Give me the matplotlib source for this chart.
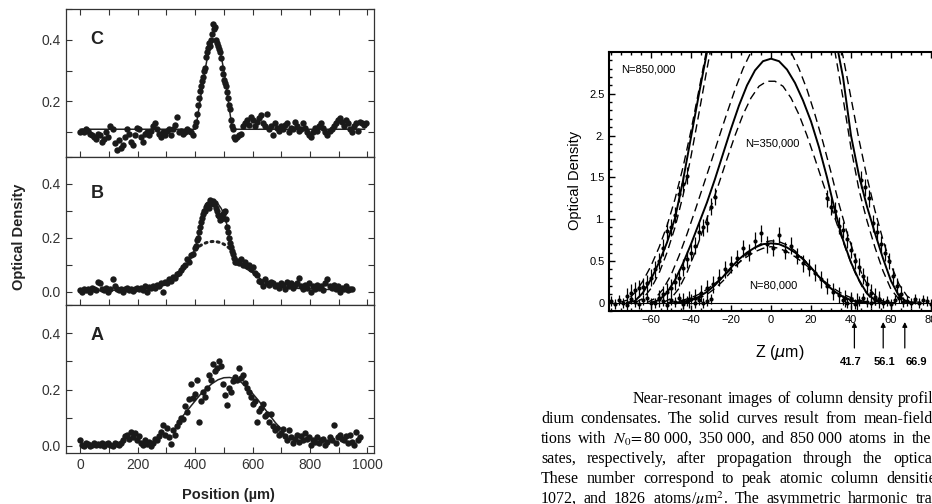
# Perfis de densidade óptica: três painéis à esquerda, perfis de condensados à direita
import numpy as np
import matplotlib.pyplot as plt
from matplotlib.ticker import MultipleLocator, FixedLocator, FixedFormatter
from matplotlib.transforms import blended_transform_factory

plt.rcParams['font.family'] = ['Liberation Sans', 'DejaVu Sans']

W, H = 932, 504

# ---------------- dados do painel C ----------------
c_x = np.arange(0, 995, 7)
c_y = [0.10, 0.105, 0.10, 0.11, 0.105, 0.095, 0.09, 0.085, 0.08, 0.095,
       0.09, 0.07, 0.08, 0.10, 0.085, 0.12, 0.11, 0.065, 0.043, 0.075,
       0.05, 0.06, 0.085, 0.11, 0.095, 0.07, 0.06, 0.09, 0.115, 0.11,
       0.085, 0.07, 0.095, 0.10, 0.09, 0.105, 0.12, 0.13, 0.11, 0.095,
       0.085, 0.10, 0.09, 0.105, 0.11, 0.09, 0.11, 0.125, 0.15, 0.10,
       0.105, 0.095, 0.10, 0.11, 0.105, 0.10, 0.09, 0.12, 0.16, 0.21,
       0.25, 0.28, 0.31, 0.36, 0.39, 0.40, 0.45, 0.44, 0.39, 0.37,
       0.34, 0.29, 0.26, 0.23, 0.19, 0.14, 0.11, 0.08, 0.085, 0.09,
       0.095, 0.12, 0.13, 0.14, 0.125, 0.15, 0.14, 0.12, 0.135, 0.145,
       0.155, 0.13, 0.12, 0.16, 0.11, 0.12, 0.09, 0.13, 0.115, 0.105,
       0.12, 0.11, 0.125, 0.13, 0.10, 0.115, 0.11, 0.135, 0.12, 0.105,
       0.11, 0.13, 0.115, 0.10, 0.09, 0.085, 0.10, 0.115, 0.105, 0.12,
       0.13, 0.115, 0.10, 0.09, 0.105, 0.11, 0.12, 0.13, 0.14, 0.145,
       0.135, 0.12, 0.14, 0.13, 0.11, 0.10, 0.12, 0.13, 0.105, 0.135,
       0.13, 0.125, 0.13]
c_pico_x = [403, 410, 417, 424, 431, 438, 445, 452, 459, 466,
            473, 480, 487, 494, 501, 508, 515, 522, 529, 536]
c_pico_y = [0.135, 0.19, 0.235, 0.265, 0.30, 0.345, 0.375, 0.38, 0.42, 0.435,
            0.40, 0.38, 0.36, 0.31, 0.27, 0.25, 0.21, 0.175, 0.12, 0.085]
c_linha_x = [0, 400, 405, 410, 420, 430, 440, 450, 460, 465, 470, 480,
             490, 500, 510, 520, 528, 532, 990]
c_linha_y = [0.11, 0.11, 0.13, 0.16, 0.22, 0.28, 0.33, 0.37, 0.395, 0.40,
             0.398, 0.385, 0.35, 0.30, 0.24, 0.17, 0.12, 0.11, 0.11]

# ---------------- dados do painel B ----------------
b_x = np.arange(0, 946, 7)
b_y = [0.005, 0.0, 0.008, 0.005, 0.01, 0.0, 0.012, 0.008, 0.005, 0.035,
       0.03, 0.01, 0.005, 0.012, 0.0, 0.008, 0.045, 0.02, 0.01, 0.005,
       0.01, 0.0, 0.008, 0.012, 0.005, 0.01, 0.003, 0.008, 0.012, 0.01,
       0.015, 0.005, 0.02, 0.0, 0.018, 0.012, 0.02, 0.015, 0.025, 0.02,
       0.03, 0.0, 0.035, 0.03, 0.045, 0.04, 0.055, 0.05, 0.065, 0.07,
       0.08, 0.09, 0.10, 0.12, 0.11, 0.135, 0.14, 0.16, 0.19, 0.22,
       0.26, 0.29, 0.30, 0.32, 0.31, 0.33, 0.335, 0.33, 0.30, 0.28,
       0.27, 0.29, 0.30, 0.24, 0.20, 0.165, 0.14, 0.11, 0.115, 0.105,
       0.12, 0.10, 0.11, 0.095, 0.10, 0.085, 0.09, 0.07, 0.06, 0.04,
       0.035, 0.02, 0.045, 0.03, 0.025, 0.035, 0.03, 0.02, 0.025, 0.015,
       0.03, 0.025, 0.01, 0.035, 0.02, 0.03, 0.015, 0.025, 0.03, 0.05,
       0.02, 0.01, 0.025, 0.015, 0.03, 0.0, 0.02, 0.01, 0.025, 0.015,
       0.02, 0.005, 0.03, 0.045, 0.02, 0.015, 0.025, 0.01, 0.02, 0.0,
       0.015, 0.01, 0.02, 0.005, 0.01, 0.01]
b_pico_x = [403, 410, 417, 424, 431, 438, 445, 452, 459, 466, 473,
            480, 487, 494, 501, 508, 515, 522, 529, 536, 543]
b_pico_y = [0.17, 0.20, 0.24, 0.275, 0.30, 0.315, 0.325, 0.34, 0.33, 0.325, 0.31,
            0.285, 0.265, 0.28, 0.295, 0.27, 0.22, 0.18, 0.15, 0.125, 0.11]
b_linha_x = [0, 100, 200, 250, 300, 330, 360, 380, 400, 410, 420, 430, 440,
             450, 460, 470, 480, 490, 500, 510, 520, 530, 540, 550, 570, 600,
             630, 660, 700, 750, 800, 850, 900, 940]
b_linha_y = [0.003, 0.004, 0.008, 0.012, 0.025, 0.045, 0.08, 0.11, 0.16, 0.20,
             0.245, 0.28, 0.305, 0.32, 0.33, 0.33, 0.325, 0.31, 0.29, 0.25, 0.20,
             0.15, 0.12, 0.105, 0.09, 0.07, 0.045, 0.03, 0.018, 0.012, 0.01,
             0.008, 0.007, 0.006]
b_termico_x = [400, 410, 420, 430, 440, 450, 460, 470, 480, 490, 500, 510, 520, 530]
b_termico_y = [0.155, 0.165, 0.172, 0.178, 0.182, 0.185, 0.186, 0.186, 0.184,
               0.181, 0.176, 0.169, 0.16, 0.15]

# ---------------- dados do painel A ----------------
a_x = np.arange(0, 974, 7)
a_y = [0.02, 0.005, 0.0, 0.01, 0.008, 0.0, 0.005, 0.01, 0.003, 0.008,
       0.005, 0.012, 0.0, 0.008, 0.01, 0.005, 0.0, 0.01, 0.008, 0.004,
       0.012, 0.02, 0.035, 0.04, 0.025, 0.05, 0.03, 0.045, 0.02, 0.035,
       0.01, 0.005, 0.02, 0.008, 0.015, 0.0, 0.01, 0.025, 0.02, 0.035,
       0.05, 0.075, 0.04, 0.065, 0.03, 0.008, 0.055, 0.04, 0.07, 0.085,
       0.10, 0.095, 0.14, 0.12, 0.165, 0.22, 0.17, 0.185, 0.235, 0.085,
       0.16, 0.19, 0.175, 0.205, 0.25, 0.235, 0.29, 0.265, 0.275, 0.30,
       0.285, 0.22, 0.18, 0.145, 0.205, 0.19, 0.23, 0.245, 0.235, 0.275,
       0.24, 0.25, 0.225, 0.205, 0.19, 0.175, 0.15, 0.16, 0.085, 0.125,
       0.135, 0.15, 0.105, 0.115, 0.085, 0.115, 0.07, 0.055, 0.065, 0.04,
       0.045, 0.06, 0.035, 0.02, 0.055, 0.03, 0.01, 0.025, 0.04, 0.015,
       0.035, 0.02, 0.045, 0.025, 0.03, 0.005, 0.02, 0.015, 0.03, 0.01,
       0.02, 0.025, 0.005, 0.015, 0.03, 0.02, 0.075, 0.01, 0.03, 0.04,
       0.025, 0.02, 0.035, 0.01, 0.04, 0.015, 0.005, 0.05, 0.02, 0.03]
a_linha_x = [340, 360, 380, 400, 420, 440, 460, 480, 500, 520, 540, 560,
             580, 600, 620, 640, 660, 680, 700]
a_linha_y = [0.085, 0.11, 0.135, 0.16, 0.185, 0.205, 0.222, 0.235, 0.242,
             0.243, 0.238, 0.226, 0.208, 0.186, 0.162, 0.135, 0.108, 0.082, 0.06]

# ---------------- dados do gráfico da direita ----------------
n80_z = [-44, -41, -38, -35, -32, -29, -26, -23, -20, -17, -14, -11, -8, -5, -2,
         1, 4, 7, 10, 13, 16, 19, 22, 25, 28, 31, 34, 37, 40, 43]
n80_y = [0.02, 0.04, 0.06, 0.11, 0.17, 0.22, 0.30, 0.40, 0.46, 0.53, 0.65, 0.60,
         0.74, 0.83, 0.70, 0.66, 0.81, 0.62, 0.68, 0.56, 0.47, 0.42, 0.36, 0.28,
         0.20, 0.13, 0.09, 0.05, 0.03, 0.01]
n350_z = [-56, -54, -52, -50, -48, -46, -44, -42, -40, -38, -36, -34, -32, -30, -28,
          28, 30, 32, 34, 36, 38, 40, 42, 44, 46, 48, 50, 52, 54]
n350_y = [0.05, 0.10, 0.13, 0.18, 0.25, 0.30, 0.42, 0.52, 0.60, 0.68, 0.85, 0.90,
          0.95, 1.15, 1.27, 1.25, 1.15, 1.10, 0.92, 0.87, 0.76, 0.63, 0.50, 0.43,
          0.32, 0.22, 0.12, 0.07, 0.04]
n850_z = [-72, -70, -68, -66, -64, -62, -60, -58, -56, -54, -52, -50, -48, -46, -44,
          -42, 45, 47, 49, 51, 53, 55, 57, 59, 61, 63, 65]
n850_y = [0.08, 0.12, 0.15, 0.17, 0.19, 0.23, 0.30, 0.40, 0.50, 0.66, 0.86, 0.90,
          1.05, 1.30, 1.42, 1.52, 1.47, 1.38, 1.25, 0.95, 0.85, 0.70, 0.60, 0.50,
          0.32, 0.20, 0.10]
fundo_z = [-80, -78, -76, -74, -72, -70, -68, -66, -64, -62, -60, -58, -56, -54,
           -52, -50, -48, -46, -44, -42, -40, -38, -36, -34, -32, -30,
           36, 38, 40, 42, 44, 46, 48, 50, 52, 54, 56, 58, 60, 62, 64, 66, 68,
           70, 72, 74, 76, 78, 80, 82]
fundo_y = [0.02, -0.02, 0.03, 0.0, -0.03, 0.04, 0.01, -0.02, 0.03, 0.05, 0.0,
           -0.01, 0.04, 0.02, -0.03, 0.03, 0.01, 0.05, -0.02, 0.02, 0.04, 0.0,
           0.03, -0.01, 0.02, 0.04,
           0.03, 0.0, 0.04, -0.02, 0.02, 0.05, 0.01, -0.01, 0.03, 0.04, 0.0,
           0.02, -0.02, 0.03, 0.05, 0.01, 0.02, -0.01, 0.04, 0.0, 0.03, 0.02,
           -0.02, 0.04]

s80_z = [-48, -44, -40, -36, -32, -28, -24, -20, -16, -12, -8, -4, 0, 4, 8, 12,
         16, 20, 24, 28, 32, 36, 40, 44, 48]
s80_y = [0.0, 0.01, 0.03, 0.07, 0.13, 0.21, 0.31, 0.42, 0.52, 0.60, 0.66, 0.70,
         0.71, 0.70, 0.66, 0.60, 0.52, 0.42, 0.31, 0.21, 0.13, 0.07, 0.03, 0.01, 0.0]
t80a_z = [-44, -40, -36, -32, -28, -24, -20, -16, -12, -8, -4, 0, 4, 8, 12, 16,
          20, 24, 28, 32, 36, 40, 44]
t80a_y = [0.0, 0.02, 0.05, 0.10, 0.17, 0.26, 0.37, 0.48, 0.58, 0.66, 0.72, 0.74,
          0.73, 0.69, 0.62, 0.53, 0.42, 0.31, 0.21, 0.13, 0.07, 0.03, 0.01]
t80b_z = [-52, -48, -44, -40, -36, -32, -28, -24, -20, -16, -12, -8, -4, 0, 4, 8,
          12, 16, 20, 24, 28, 32, 36, 40, 44, 48, 52]
t80b_y = [0.0, 0.01, 0.03, 0.06, 0.10, 0.16, 0.23, 0.31, 0.40, 0.48, 0.55, 0.61,
          0.65, 0.67, 0.65, 0.61, 0.55, 0.48, 0.40, 0.31, 0.23, 0.16, 0.10, 0.06,
          0.03, 0.01, 0.0]

s350_z = [-60, -56, -52, -48, -44, -40, -36, -32, -28, -24, -20, -16, -12, -8, -4,
          0, 4, 8, 12, 16, 20, 24, 28, 32, 36, 40, 44, 48, 52, 56, 60]
s350_y = [0.0, 0.03, 0.12, 0.27, 0.47, 0.70, 0.95, 1.20, 1.48, 1.78, 2.08, 2.36,
          2.60, 2.78, 2.89, 2.92, 2.89, 2.79, 2.63, 2.42, 2.17, 1.86, 1.50, 1.10,
          0.75, 0.48, 0.27, 0.11, 0.03, 0.0, 0.0]
t350a_z = [-62, -58, -54, -50, -46, -42, -38, -34, -30, -26, -22, -18, -14, -10,
           -6, -2, 2, 6, 10, 14, 18, 22, 26, 30, 34, 38, 42, 46, 50, 54, 58, 62]
t350a_y = [0.0, 0.05, 0.16, 0.33, 0.56, 0.82, 1.10, 1.39, 1.68, 1.98, 2.27, 2.55,
           2.80, 3.00, 3.13, 3.20, 3.20, 3.13, 3.00, 2.80, 2.55, 2.25, 1.92, 1.56,
           1.18, 0.84, 0.55, 0.31, 0.14, 0.04, 0.0, 0.0]
t350b_z = [-54, -50, -46, -42, -38, -34, -30, -26, -22, -18, -14, -10, -6, -2, 2,
           6, 10, 14, 18, 22, 26, 30, 34, 38, 42, 46, 50, 54]
t350b_y = [0.0, 0.05, 0.17, 0.36, 0.60, 0.87, 1.15, 1.43, 1.72, 2.00, 2.25, 2.45,
           2.59, 2.65, 2.65, 2.59, 2.45, 2.25, 2.00, 1.72, 1.43, 1.15, 0.87, 0.60,
           0.36, 0.17, 0.05, 0.0]

s850_z = [-72, -68, -64, -60, -56, -52, -48, -44, -40, -36, -32, -28, -20, 0, 20,
          28, 32, 36, 40, 44, 48, 52, 56, 60, 64, 68, 72]
s850_y = [0.0, 0.02, 0.12, 0.28, 0.48, 0.72, 1.01, 1.46, 1.98, 2.50, 3.00, 3.45,
          4.20, 5.00, 4.30, 3.60, 3.20, 2.70, 2.00, 1.52, 1.15, 0.83, 0.53, 0.26,
          0.08, 0.01, 0.0]
t850a_z = [-76, -72, -68, -64, -60, -56, -52, -48, -44, -40, -36, -32, -28, -20, 0,
           20, 28, 32, 36, 40, 44, 48, 52, 56, 60, 64, 68, 72, 76]
t850a_y = [0.0, 0.03, 0.12, 0.26, 0.44, 0.66, 0.92, 1.24, 1.62, 2.06, 2.55, 3.05,
           3.50, 4.30, 5.20, 4.40, 3.70, 3.35, 2.95, 2.45, 1.95, 1.50, 1.10, 0.75,
           0.45, 0.22, 0.08, 0.01, 0.0]
t850b_z = [-68, -64, -60, -56, -52, -48, -44, -40, -36, -32, -28, -20, 0, 20, 28,
           32, 36, 40, 44, 48, 52, 56, 60, 64, 68]
t850b_y = [0.0, 0.05, 0.17, 0.35, 0.60, 0.90, 1.28, 1.75, 2.27, 2.80, 3.30, 4.10,
           4.80, 4.10, 3.45, 3.00, 2.45, 1.85, 1.35, 0.98, 0.66, 0.38, 0.16, 0.04, 0.0]

setas_z = [41.7, 56.1, 66.9]
setas_txt = ['41.7', '56.1', '66.9']
setas_txt_px = [851, 884, 916]

# texto da legenda: (x inicial, y, linha, espaço entre palavras em px)
legenda = [
    (633, 399, 'Near-resonant images of column density profiles of so-', 4.5),
    (541, 419, 'dium condensates. The solid curves result from mean-field calcula-', 6.3),
    (541, 439, 'tions with $N_0\\!=$80\u00a0000, 350\u00a0000, and 850\u00a0000 atoms in the conden-', 6.2),
    (541, 459, 'sates, respectively, after propagation through the optical system.', 10.5),
    (541, 479, 'These number correspond to peak atomic column densities of 232,', 7.6),
    (541, 499, '1072, and 1826 atoms/$\\mu$m$^2$. The asymmetric harmonic trap', 7.0),
]


def caixa(x0, y0, x1, y1):
    return [x0 / W, 1 - y1 / H, (x1 - x0) / W, (y1 - y0) / H]


def fy(y):
    return 1 - y / H


fig = plt.figure(figsize=(W / 100, H / 100), dpi=100)

cor_eixo = '#333333'
cor_ponto = '#1a1a1a'

ax_c = fig.add_axes(caixa(66, 9, 374, 157))
ax_b = fig.add_axes(caixa(66, 157, 374, 305))
ax_a = fig.add_axes(caixa(66, 305, 374, 453))

paineis = [
    (ax_c, (0.02, 0.5), 'C', 39),
    (ax_b, (-0.05, 0.5), 'B', 193),
    (ax_a, (-0.025, 0.5), 'A', 335),
]

for ax, lim, letra, yl in paineis:
    ax.set_xlim(-50, 1023)
    ax.set_ylim(*lim)
    ax.xaxis.set_major_locator(MultipleLocator(200))
    ax.xaxis.set_minor_locator(MultipleLocator(100))
    ax.yaxis.set_major_locator(MultipleLocator(0.2))
    ax.yaxis.set_minor_locator(MultipleLocator(0.1))
    ax.tick_params(which='both', direction='in', right=True, top=(ax is ax_c),
                   color=cor_eixo, labelcolor=cor_eixo, labelsize=10, width=0.8)
    ax.tick_params(which='both', length=4)
    ax.yaxis.set_major_formatter(plt.FuncFormatter(lambda v, p: '%.1f' % v))
    for s in ax.spines.values():
        s.set_color(cor_eixo)
        s.set_linewidth(0.9)
    if ax is not ax_a:
        ax.tick_params(labelbottom=False)
    fig.text(97 / W, fy(yl), letra, fontsize=13, fontweight='bold',
             ha='center', va='center', color='#222222')

ax_c.plot(c_linha_x, c_linha_y, color='#222222', lw=1.1, zorder=2)
ax_c.plot(c_x, c_y, 'o', color=cor_ponto, ms=4.6, mew=0, zorder=3)
ax_c.plot(c_pico_x, c_pico_y, 'o', color=cor_ponto, ms=4.6, mew=0, zorder=3)

ax_b.plot(b_linha_x, b_linha_y, color='#222222', lw=1.1, zorder=2)
ax_b.plot(b_termico_x, b_termico_y, color='#222222', lw=2.2,
          dashes=(0.6, 1.4), dash_capstyle='round', zorder=2)
ax_b.plot(b_x, b_y, 'o', color=cor_ponto, ms=4.6, mew=0, zorder=3)
ax_b.plot(b_pico_x, b_pico_y, 'o', color=cor_ponto, ms=4.6, mew=0, zorder=3)

ax_a.plot(a_linha_x, a_linha_y, color='#222222', lw=1.1, zorder=2)
ax_a.plot(a_x, a_y, 'o', color=cor_ponto, ms=4.6, mew=0, zorder=3)

fig.text(19 / W, fy(237), 'Optical Density', rotation=90, fontsize=10.5,
         fontweight='bold', ha='center', va='center', color='#222222')
fig.text(228 / W, fy(495), 'Position (µm)', fontsize=10.5, fontweight='bold',
         ha='center', va='center', color='#222222')

# ---------------- gráfico da direita ----------------
ax_d = fig.add_axes(caixa(609, 52, 955, 311))
ax_d.set_xlim(-81, 92)
ax_d.set_ylim(-0.1, 3.0)
ax_d.axhline(0, color='k', lw=0.8, zorder=1)

for z, y in [(t80a_z, t80a_y), (t80b_z, t80b_y), (t350a_z, t350a_y),
             (t350b_z, t350b_y), (t850a_z, t850a_y), (t850b_z, t850b_y)]:
    ax_d.plot(z, y, color='k', lw=1.0, dashes=(6, 3.5), zorder=2)
for z, y in [(s80_z, s80_y), (s350_z, s350_y), (s850_z, s850_y)]:
    ax_d.plot(z, y, color='k', lw=1.4, zorder=2)

for z, y, e in [(n80_z, n80_y, 0.1), (n350_z, n350_y, 0.1),
                (n850_z, n850_y, 0.1), (fundo_z, fundo_y, 0.06)]:
    ax_d.errorbar(z, y, yerr=e, fmt='o', ms=3, color='k', mew=0,
                  elinewidth=0.9, capsize=0, zorder=3)

ax_d.xaxis.set_major_locator(FixedLocator([-60, -40, -20, 0, 20, 40, 60, 80]))
ax_d.xaxis.set_major_formatter(FixedFormatter(['\u221260', '\u221240', '\u221220',
                                               '0', '20', '40', '60', '80']))
ax_d.xaxis.set_minor_locator(MultipleLocator(5))
ax_d.yaxis.set_major_locator(FixedLocator([0, 0.5, 1, 1.5, 2, 2.5]))
ax_d.yaxis.set_major_formatter(FixedFormatter(['0', '0.5', '1.', '1.5', '2.', '2.5']))
ax_d.yaxis.set_minor_locator(MultipleLocator(0.1))
ax_d.tick_params(which='both', direction='in', top=True, right=True,
                 labelsize=8, width=1.0, pad=3)
ax_d.tick_params(which='major', length=4)
ax_d.tick_params(which='minor', length=2)
for s in ax_d.spines.values():
    s.set_linewidth(1.5)

fig.text(621 / W, fy(69), 'N=850,000', fontsize=8, ha='left', va='center')
fig.text(772 / W, fy(143), 'N=350,000', fontsize=8, ha='center', va='center')
fig.text(773 / W, fy(286), 'N=80,000', fontsize=8, ha='center', va='center')
fig.text(575 / W, fy(180), 'Optical Density', rotation=90, fontsize=10.5,
         ha='center', va='center')
fig.text(780 / W, fy(352), 'Z ($\\mu$m)', fontsize=11.5, ha='center', va='center',
         math_fontfamily='dejavusans')

mistura = blended_transform_factory(ax_d.transData, fig.transFigure)
for z, t, xt in zip(setas_z, setas_txt, setas_txt_px):
    ax_d.annotate('', xy=(z, fy(322)), xytext=(z, fy(348)),
                  xycoords=mistura, textcoords=mistura, annotation_clip=False,
                  arrowprops=dict(arrowstyle='-|>', color='k', lw=0.9,
                                  mutation_scale=7, shrinkA=0, shrinkB=0))
    fig.text(xt / W, fy(362), t, fontsize=8, fontweight='bold',
             ha='center', va='center')

# ---------------- legenda em texto (justificada palavra a palavra) ----------------
fig.canvas.draw()
rend = fig.canvas.get_renderer()
for x0, y, linha, folga in legenda:
    x = x0
    for palavra in linha.split(' '):
        t = fig.text(x / W, fy(y), palavra, fontsize=11.5,
                     family=['Liberation Serif', 'DejaVu Serif'],
                     ha='left', va='center', math_fontfamily='stix')
        x += t.get_window_extent(rend).width + folga
        if x > W + 20:
            break

fig.savefig('out.png', dpi=100)
